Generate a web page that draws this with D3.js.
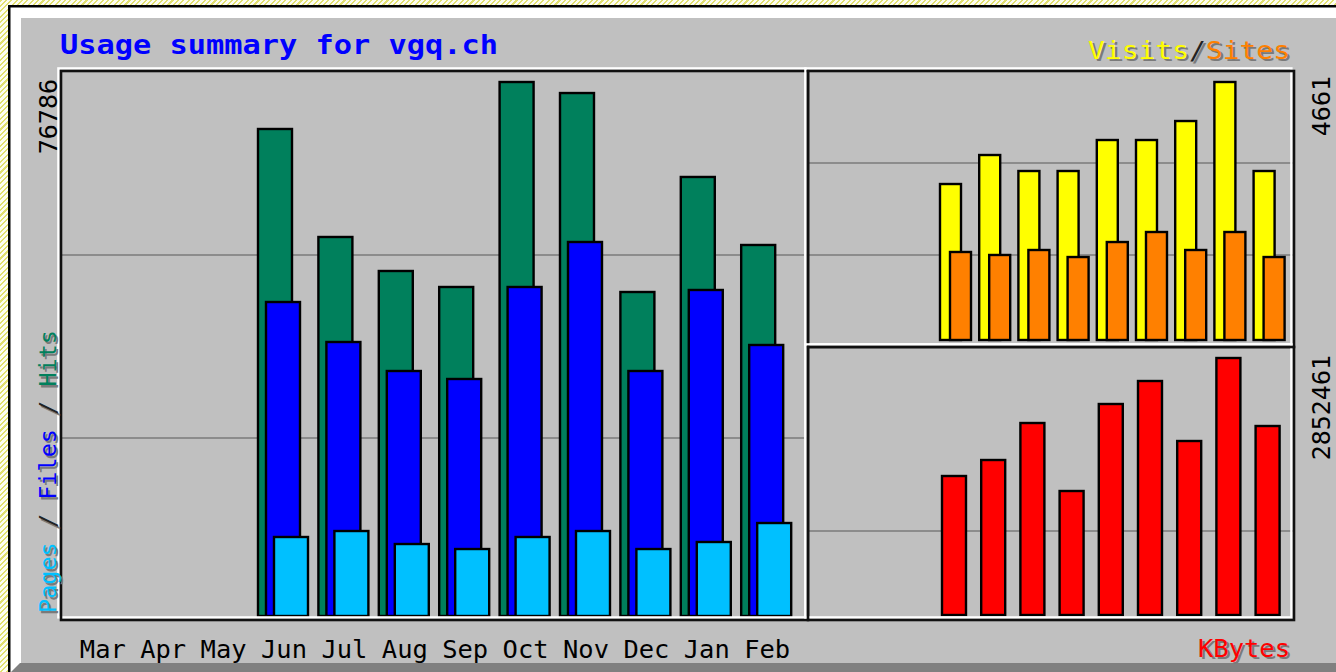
<!DOCTYPE html>
<html>
<head>
<meta charset="utf-8">
<script src="https://cdn.jsdelivr.net/npm/d3@7"></script>
<style>
  body {
    margin: 0;
    width: 1336px;
    height: 672px;
    overflow: hidden;
    background: repeating-linear-gradient(135deg, #e2e070 0 1.5px, #fdfdf2 1.5px 3.8px);
  }
  svg { position: absolute; left: 0; top: 0; }
  text { font-family: "DejaVu Sans Mono", "Liberation Mono", monospace; }
</style>
</head>
<body>
<svg id="paper"></svg>
<script>
// data
const months = ["Mar", "Apr", "May", "Jun", "Jul", "Aug", "Sep", "Oct", "Nov", "Dec", "Jan", "Feb"];
const hits   = [0, 0, 0, 70030, 54500, 49610, 47310, 76786, 75200, 46590, 63130, 53350];
const files  = [0, 0, 0, 45150, 39400, 35230, 34080, 47310, 53780, 35230, 46880, 38970];
const pages  = [0, 0, 0, 11360, 12220, 10350, 9630, 11360, 12220, 9630, 10640, 13370];
const visits = [0, 0, 0, 2818, 3342, 3053, 3053, 3613, 3613, 3956, 4661, 3053];
const sites  = [0, 0, 0, 1590, 1536, 1626, 1499, 1770, 1951, 1626, 1951, 1499];
const kbytes = [0, 0, 0, 1542780, 1720360, 2131030, 1376290, 2341920, 2597190, 1931240, 2852461, 2097730];
const maxLabels = { hits: "76786", visits: "4661", kbytes: "2852461" };

const W = 1336, H = 672;
const col = {
  bg: "#c0c0c0", grid: "#8c8c8c", shadow: "#7a7a7a",
  hits: "#00805c", files: "#0000ff", pages: "#00c0ff",
  visits: "#ffff00", sites: "#ff8000", kbytes: "#ff0000"
};

const svg = d3.select("#paper").attr("width", W).attr("height", H);

// outer picture frame
svg.append("rect").attr("x", 8).attr("y", 5).attr("width", W).attr("height", H).attr("fill", "#000");
svg.append("rect").attr("x", 10.5).attr("y", 7.5).attr("width", W).attr("height", H).attr("fill", "#fff");
svg.append("rect").attr("x", 21).attr("y", 18).attr("width", W).attr("height", H).attr("fill", col.bg);
svg.append("polygon")
  .attr("points", [[11, H], [20, 663], [W, 663], [W, H]].join(" "))
  .attr("fill", "#808080");

// panels: black box with white box offset up/left
const panels = {
  main: { x1: 61, y1: 71, x2: 808, y2: 620 },
  top: { x1: 808, y1: 71, x2: 1294, y2: 347 },
  bottom: { x1: 808, y1: 347, x2: 1294, y2: 620 },
};

function grid(p, ys) {
  svg.append("g").selectAll("line").data(ys).enter().append("line")
    .attr("x1", p.x1).attr("x2", p.x2)
    .attr("y1", (d) => d).attr("y2", (d) => d)
    .attr("stroke", col.grid).attr("stroke-width", 2);
}

function frame(p) {
  const g = svg.append("g");
  g.append("rect")
    .attr("x", p.x1 - 2.6).attr("y", p.y1 - 2.6)
    .attr("width", p.x2 - p.x1).attr("height", p.y2 - p.y1)
    .attr("fill", "none").attr("stroke", "#fff").attr("stroke-width", 2.4);
  g.append("rect")
    .attr("x", p.x1).attr("y", p.y1)
    .attr("width", p.x2 - p.x1).attr("height", p.y2 - p.y1)
    .attr("fill", "none").attr("stroke", "#111").attr("stroke-width", 2.6);
}

// scales
const xMain = d3.scaleBand().domain(months).range([76.8, 791.2]).paddingInner(0.172).paddingOuter(0);
const xRight = d3.scaleBand().domain(months).range([822.4, 1284.6]).paddingInner(0.209).paddingOuter(0);
const yMain = d3.scaleLinear().domain([0, 76786]).range([616, 82]);
const yTop = d3.scaleLinear().domain([0, 4661]).range([340, 82]);
const yBottom = d3.scaleLinear().domain([0, 2852461]).range([615, 358]);
const gMain = d3.scaleLinear().domain([0, 3]).range([621, 72]);
const gTop = d3.scaleLinear().domain([0, 3]).range([347, 71]);
const gBottom = d3.scaleLinear().domain([0, 3]).range([620, 347]);

grid(panels.main, [gMain(1), gMain(2)]);
grid(panels.top, [gTop(1), gTop(2)]);
grid(panels.bottom, [gBottom(1) + 2]);

function bars(values, x, y, offset, width, fill) {
  const data = months.map((m, i) => ({ m: m, v: values[i] })).filter((d) => d.v > 0);
  svg.append("g").selectAll("rect").data(data).enter().append("rect")
    .attr("x", (d) => x(d.m) + offset)
    .attr("y", (d) => y(d.v))
    .attr("width", width)
    .attr("height", (d) => y(0) - y(d.v))
    .attr("fill", fill)
    .attr("stroke", "#000")
    .attr("stroke-width", 2.4);
}

bars(hits, xMain, yMain, 0, 34, col.hits);
bars(files, xMain, yMain, 8, 34, col.files);
bars(pages, xMain, yMain, 16, 34, col.pages);
bars(visits, xRight, yTop, 0, 21, col.visits);
bars(sites, xRight, yTop, 10, 21, col.sites);
bars(kbytes, xRight, yBottom, 2, 24, col.kbytes);

frame(panels.main);
frame(panels.top);
frame(panels.bottom);

// month labels
svg.append("g").selectAll("text").data(months).enter().append("text")
  .attr("x", (m) => xMain(m) + xMain.bandwidth() / 2 + 1)
  .attr("y", 658)
  .attr("text-anchor", "middle")
  .attr("font-size", 25)
  .attr("textLength", 46).attr("lengthAdjust", "spacingAndGlyphs")
  .attr("fill", "#000")
  .text((m) => m);

// title
svg.append("text")
  .attr("x", 60).attr("y", 54)
  .attr("font-size", 27).attr("font-weight", "bold")
  .attr("textLength", 438).attr("lengthAdjust", "spacingAndGlyphs")
  .attr("fill", "#0000ff")
  .text("Usage summary for vgq.ch");

// shadowed multi-colour legends
function legend(parts, x, y, anchor, rotate, size, length) {
  [[2.4, 2.4, true], [0, 0, false]].forEach(([dx, dy, shadow]) => {
    const t = svg.append("text")
      .attr("transform", "translate(" + (x + dx) + "," + (y + dy) + ")" + (rotate ? " rotate(-90)" : ""))
      .attr("text-anchor", anchor)
      .attr("font-size", size)
      .attr("textLength", length).attr("lengthAdjust", "spacingAndGlyphs");
    t.selectAll("tspan").data(parts).enter().append("tspan")
      .attr("fill", (d) => shadow ? col.shadow : d[1])
      .attr("xml:space", "preserve")
      .text((d) => d[0]);
  });
}

legend([["Pages", col.pages], [" / ", "#222"], ["Files", col.files], [" / ", "#222"], ["Hits", col.hits]],
  56, 613, "start", true, 23, 283);
legend([["Visits", col.visits], ["/", "#222"], ["Sites", col.sites]], 1290, 59, "end", false, 24, 202);
legend([["KBytes", col.kbytes]], 1290, 657, "end", false, 25, 92);

// max value labels
function maxLabel(txt, x, y) {
  svg.append("text")
    .attr("transform", "translate(" + x + "," + y + ") rotate(-90)")
    .attr("text-anchor", "end")
    .attr("font-size", 25)
    .attr("fill", "#000")
    .text(txt);
}
maxLabel(maxLabels.hits, 57, 79);
maxLabel(maxLabels.visits, 1330, 76);
maxLabel(maxLabels.kbytes, 1330, 355);
</script>
</body>
</html>
